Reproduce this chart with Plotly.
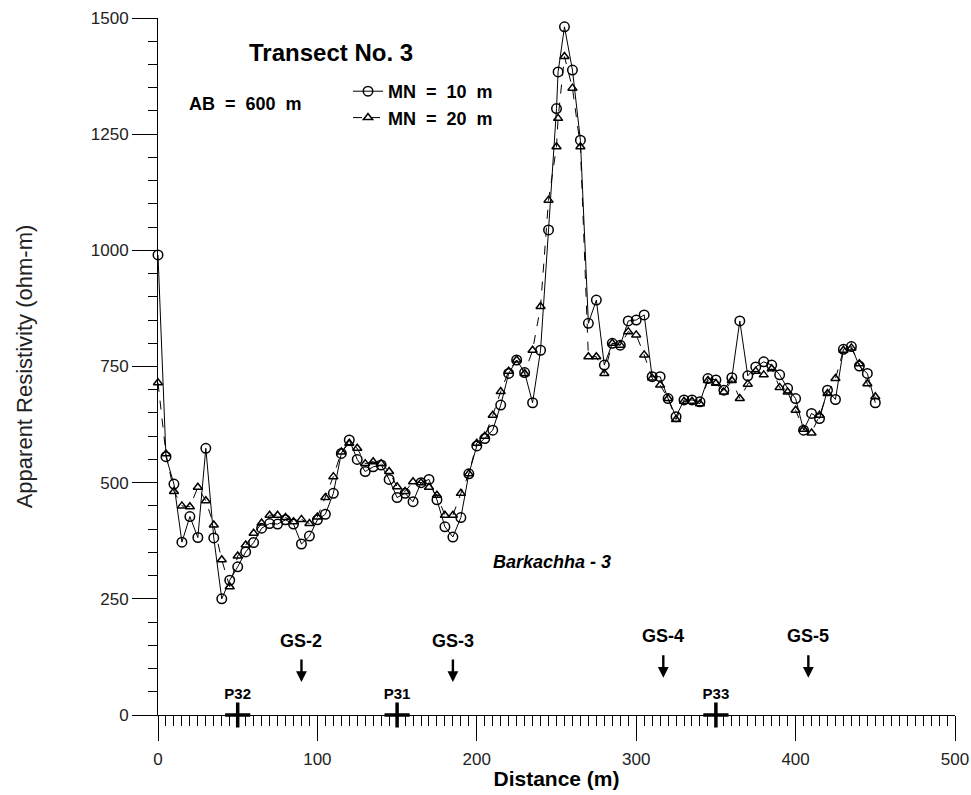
import plotly.graph_objects as go

# ---------------- data ----------------
distance = [0, 5, 10, 15, 20, 25, 30, 35, 40, 45,
            50, 55, 60, 65, 70, 75, 80, 85, 90, 95,
            100, 105, 110, 115, 120, 125, 130, 135, 140, 145,
            150, 155, 160, 165, 170, 175, 180, 185, 190, 195,
            200, 205, 210, 215, 220, 225, 230, 235, 240, 245,
            250, 251, 255, 260, 265, 270, 275, 280, 285, 290,
            295, 300, 305, 310, 315, 320, 325, 330, 335, 340,
            345, 350, 355, 360, 365, 370, 375, 380, 385, 390,
            395, 400, 405, 410, 415, 420, 425, 430, 435, 440,
            445, 450]

mn10 = [990, 556, 497, 372, 427, 382, 574, 381, 250, 290,
        319, 351, 371, 402, 412, 411, 420, 411, 368, 385,
        420, 432, 477, 563, 592, 550, 524, 534, 538, 507,
        468, 477, 459, 500, 507, 463, 405, 383, 425, 519,
        579, 595, 613, 667, 735, 764, 737, 672, 785, 1044,
        1305, 1384, 1481, 1388, 1237, 843, 893, 753, 800, 796,
        848, 850, 861, 728, 728, 681, 642, 678, 678, 674,
        724, 721, 699, 726, 848, 730, 749, 760, 753, 732,
        703, 681, 613, 649, 638, 699, 679, 787, 793, 751,
        735, 672]

mn20 = [715, 562, 481, 450, 448, 490, 461, 409, 334, 276,
        342, 366, 391, 413, 430, 430, 425, 416, 421, 412,
        426, 468, 513, 566, 585, 574, 541, 545, 541, 524,
        491, 481, 502, 500, 490, 473, 430, 430, 477, 519,
        585, 600, 645, 696, 740, 764, 735, 785, 879, 1108,
        1223, 1284, 1417, 1349, 1223, 771, 771, 735, 800, 796,
        825, 818, 775, 725, 710, 681, 636, 675, 675, 670,
        720, 714, 695, 720, 681, 712, 740, 732, 745, 705,
        695, 656, 615, 607, 645, 692, 724, 785, 790, 756,
        713, 685]

gs_labels = ["GS-2", "GS-3", "GS-4", "GS-5"]
gs_pos = [90, 185, 317, 408]
gs_tip = [71, 71, 80, 80]
gs_text_y = [159, 159, 169, 169]

p_labels = ["P32", "P31", "P33"]
p_pos = [50, 150, 350]

x_ticks = [0, 100, 200, 300, 400, 500]
y_ticks = [0, 250, 500, 750, 1000, 1250, 1500]

# ---------------- figure ----------------
BOLD = "Liberation Sans, Arial"
REG = "Liberation Sans, Arial"
SP = "&nbsp;"

fig = go.Figure()

fig.add_trace(go.Scatter(
    x=distance, y=mn10, mode="lines+markers",
    name="<b>MN%s=%s10%sm</b>" % (SP * 2, SP * 2, SP * 2),
    line=dict(color="black", width=1),
    marker=dict(symbol="circle-open", size=9.5, color="black", line=dict(width=1.5)),
    cliponaxis=False,
))
fig.add_trace(go.Scatter(
    x=distance, y=mn20, mode="lines+markers",
    name="<b>MN%s=%s20%sm</b>" % (SP * 2, SP * 2, SP * 2),
    line=dict(color="black", width=1, dash="dash"),
    marker=dict(symbol="triangle-up-open", size=8, color="black", line=dict(width=1.5)),
    cliponaxis=False,
))

# P markers on axis
fig.add_trace(go.Scatter(
    x=p_pos, y=[0] * len(p_pos), mode="markers+text",
    text=["<b>%s</b>" % t for t in p_labels], textposition="top center",
    textfont=dict(family=BOLD, size=15, color="black"),
    marker=dict(symbol="cross-thin", size=18, color="black", line=dict(width=3.5, color="black")),
    cliponaxis=False, showlegend=False, hoverinfo="skip",
))

annotations = []
for lab, xp, tip, ty in zip(gs_labels, gs_pos, gs_tip, gs_text_y):
    annotations.append(dict(x=xp, y=tip, ax=0, ay=-24, xref="x", yref="y",
                            showarrow=True, arrowhead=2, arrowsize=0.9, arrowwidth=2.4,
                            arrowcolor="black", text=""))
    annotations.append(dict(x=xp, y=ty, xref="x", yref="y", showarrow=False,
                            xanchor="center", yanchor="middle",
                            text="<b>%s</b>" % lab,
                            font=dict(family=BOLD, size=18, color="black")))

pix_annotations = [
    dict(x=331, y=52, text="<b>Transect No. 3</b>", size=24),
    dict(x=245, y=104, text="<b>AB%s=%s600%sm</b>" % (SP * 2, SP * 2, SP * 2), size=18),
    dict(x=552, y=562, text="<b><i>Barkachha - 3</i></b>", size=18),
]

L, R, T, B = 158, 16, 18, 80
W, H = 971, 795
pw, ph = W - L - R, H - T - B
for a in pix_annotations:
    annotations.append(dict(x=(a["x"] - L) / pw, y=(H - B - a["y"]) / ph,
                            xref="paper", yref="paper", xanchor="center", yanchor="middle",
                            text=a["text"], showarrow=False,
                            font=dict(family=BOLD, size=a["size"], color="black")))

fig.update_layout(
    width=W, height=H,
    margin=dict(l=L, r=R, t=T, b=B, autoexpand=False),
    paper_bgcolor="white", plot_bgcolor="white",
    showlegend=True,
    legend=dict(x=(348 - L) / pw, y=(H - B - 73) / ph, xanchor="left", yanchor="top",
                font=dict(family=BOLD, size=18, color="black"),
                bgcolor="rgba(0,0,0,0)", tracegroupgap=0),
    annotations=annotations,
    xaxis=dict(range=[0, 500], tickvals=x_ticks, ticks="outside", ticklen=25,
               tickwidth=1, tickcolor="black", showline=True, linecolor="black",
               linewidth=1, showgrid=False, zeroline=False, automargin=False,
               minor=dict(dtick=5, ticks="outside", ticklen=10, tickcolor="black", tickwidth=1),
               tickfont=dict(family=REG, size=17, color="#222"),
               ticklabelstandoff=4,
               title=dict(text="<b>Distance (m)</b>", standoff=2,
                          font=dict(family=BOLD, size=21, color="black"))),
    yaxis=dict(range=[0, 1500], tickvals=y_ticks, ticks="outside", ticklen=25,
               tickwidth=1, tickcolor="black", showline=True, linecolor="black",
               linewidth=1, showgrid=False, zeroline=False, automargin=False,
               minor=dict(dtick=50, ticks="outside", ticklen=9, tickcolor="black", tickwidth=1),
               tickfont=dict(family=REG, size=17, color="#222"),
               title=dict(text="Apparent Resistivity (ohm-m)", standoff=52,
                          font=dict(family=REG, size=22, color="#222"))),
)

fig.write_html("out.html", config={"displayModeBar": False},
               post_script="document.body.style.margin='0px';"
                           "document.body.style.overflow='hidden';")
